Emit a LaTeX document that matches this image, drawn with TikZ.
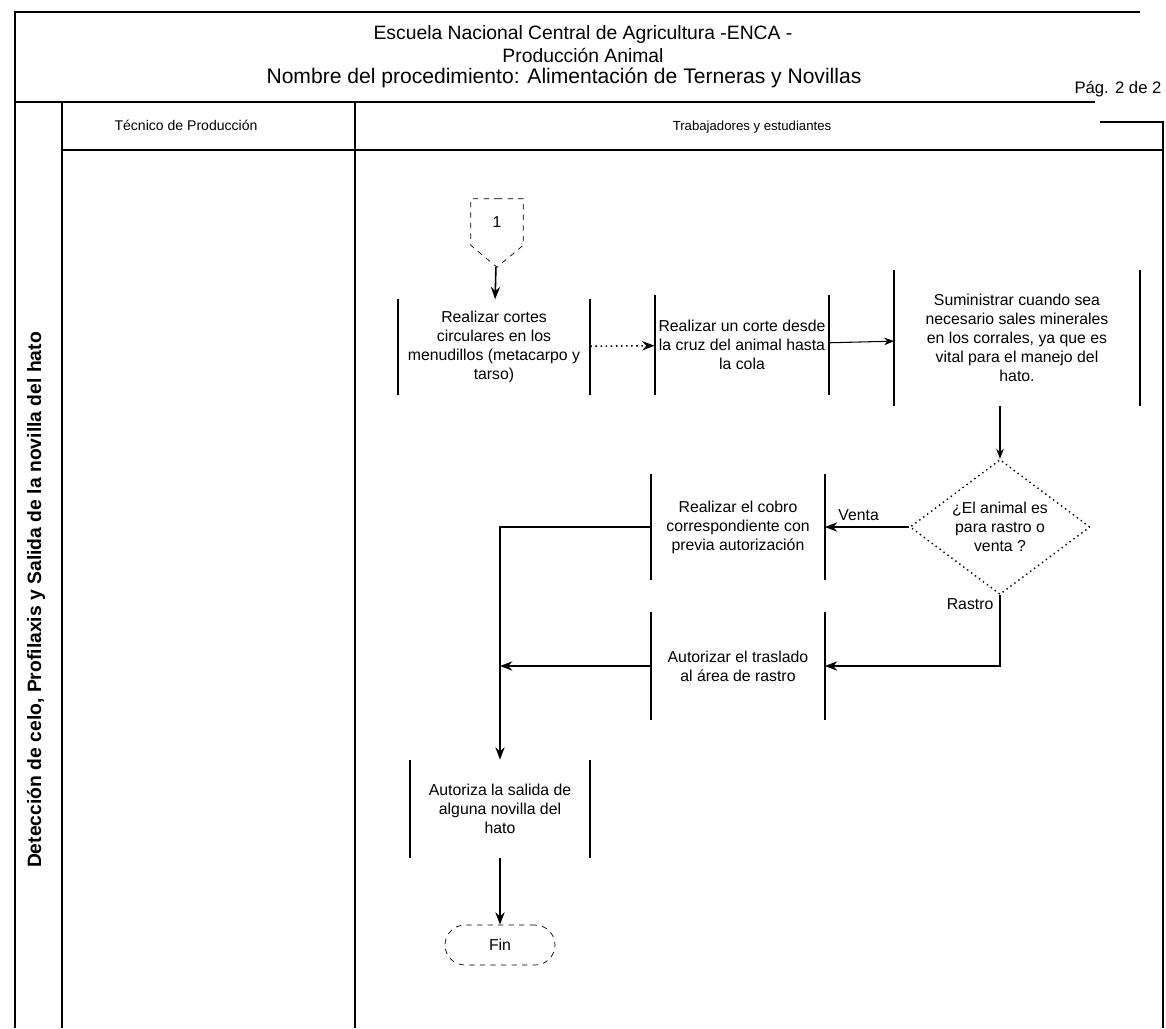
\documentclass[tikz,border=0pt]{standalone}
\usepackage{fontspec}
\setmainfont{Liberation Sans}
\usetikzlibrary{arrows.meta,positioning,shapes.geometric,shapes.symbols}

\begin{document}
\begin{tikzpicture}[x=0.02cm,y=-0.02cm,>=Stealth,
  font=\fontsize{9}{10.8}\selectfont,
  proc/.style={align=center,minimum width=#1,inner xsep=2pt,inner ysep=2pt},
  proc/.default=3.4cm,
  border/.style={line width=1.1pt},
  flow/.style={->,line width=0.9pt},
  ]
  \useasboundingbox (0,0) rectangle (1166,1028);

  % marco, encabezado y carriles
  \draw[border] (15,1028) -- (15,12) -- (1140,12);
  \draw[border] (15,102) -- (1095,102);
  \draw[border] (1100,122) -- (1163,122) -- (1163,1028);
  \draw[border] (62,102) -- (62,1028);
  \draw[border] (355,102) -- (355,1028);
  \draw[border] (62,150) -- (1163,150);

  \node[font=\fontsize{11}{13}\selectfont] (escuela) at (583,35)
    {Escuela Nacional Central de Agricultura -ENCA -};
  \node[font=\fontsize{11}{13}\selectfont] (area) at (583,55) {Producción Animal};
  \node[font=\fontsize{12}{14}\selectfont] (nombre) at (564,78)
    {Nombre del procedimiento: Alimentación de Terneras y Novillas};
  \node[font=\fontsize{9.5}{11}\selectfont] (pag) at (1118,89) {Pág. 2 de 2};

  \node[font=\fontsize{8}{10}\selectfont] (tecnico) at (186,125) {Técnico de Producción};
  \node[font=\fontsize{7.5}{9}\selectfont] (trabajadores) at (752,127) {Trabajadores y estudiantes};
  \node[rotate=90,font=\bfseries\fontsize{11}{13}\selectfont] (proceso) at (36,600)
    {Detección de celo, Profilaxis y Salida de la novilla del hato};

  % pasos del procedimiento
  \node[draw,dashed,shape=signal,signal to=south,signal pointer angle=100,
        minimum width=1.05cm,minimum height=1.1cm] (con1) at (497,222) {1};
  \node[proc=3.84cm,minimum height=1.9cm] (cortes) at (494,347)
    {Realizar cortes\\circulares en los\\menudillos (metacarpo y\\tarso)};
  \node[proc=3.4cm,minimum height=2cm] (corte) at (742,345)
    {Realizar un corte desde\\la cruz del animal hasta\\la cola};
  \node[proc=4.9cm,minimum height=2.7cm] (sales) at (1017,338)
    {Suministrar cuando sea\\necesario sales minerales\\en los corrales, ya que es\\vital para el manejo del\\hato.};
  \node[draw,dotted,thick,diamond,aspect=1.3,inner sep=0pt,align=center,
        minimum width=3.6cm,minimum height=2.7cm] (tipo) at (1000,527)
    {¿El animal es\\para rastro o\\venta ?};
  \node[proc=3.46cm,minimum height=2.1cm] (cobro) at (738,527)
    {Realizar el cobro\\correspondiente con\\previa autorización};
  \node[proc=3.46cm,minimum height=2.16cm] (traslado) at (738,666)
    {Autorizar el traslado\\al área de rastro};
  \node[proc=3.6cm,minimum height=1.96cm] (salida) at (500,809)
    {Autoriza la salida de\\alguna novilla del\\hato};
  \node[draw,dashed,rounded corners=0.4cm,minimum width=2.2cm,minimum height=0.8cm]
    (fin) at (500,945) {Fin};

  \foreach \n in {cortes,corte,sales,cobro,traslado,salida}
    \draw[line width=1.2pt] (\n.north west) -- (\n.south west)
                            (\n.north east) -- (\n.south east);

  % conexiones
  \draw[flow] (con1) -- (cortes);
  \draw[flow,dotted] (cortes) -- (corte);
  \draw[flow,line width=0.6pt] (corte) -- (sales);
  \draw[flow,line width=0.6pt] (sales.south -| tipo.north) -- (tipo.north);
  \draw[flow] (tipo.west) -- node[above,pos=0.6] {Venta} (cobro.east);
  \draw[flow] (tipo.south) |- node[left,pos=0.06] {Rastro} (traslado.east);
  \draw[flow] (cobro.west) -| (salida.north);
  \draw[flow] (traslado.west) -- (traslado.west -| salida.north);
  \draw[flow] (salida) -- (fin);
\end{tikzpicture}
\end{document}
